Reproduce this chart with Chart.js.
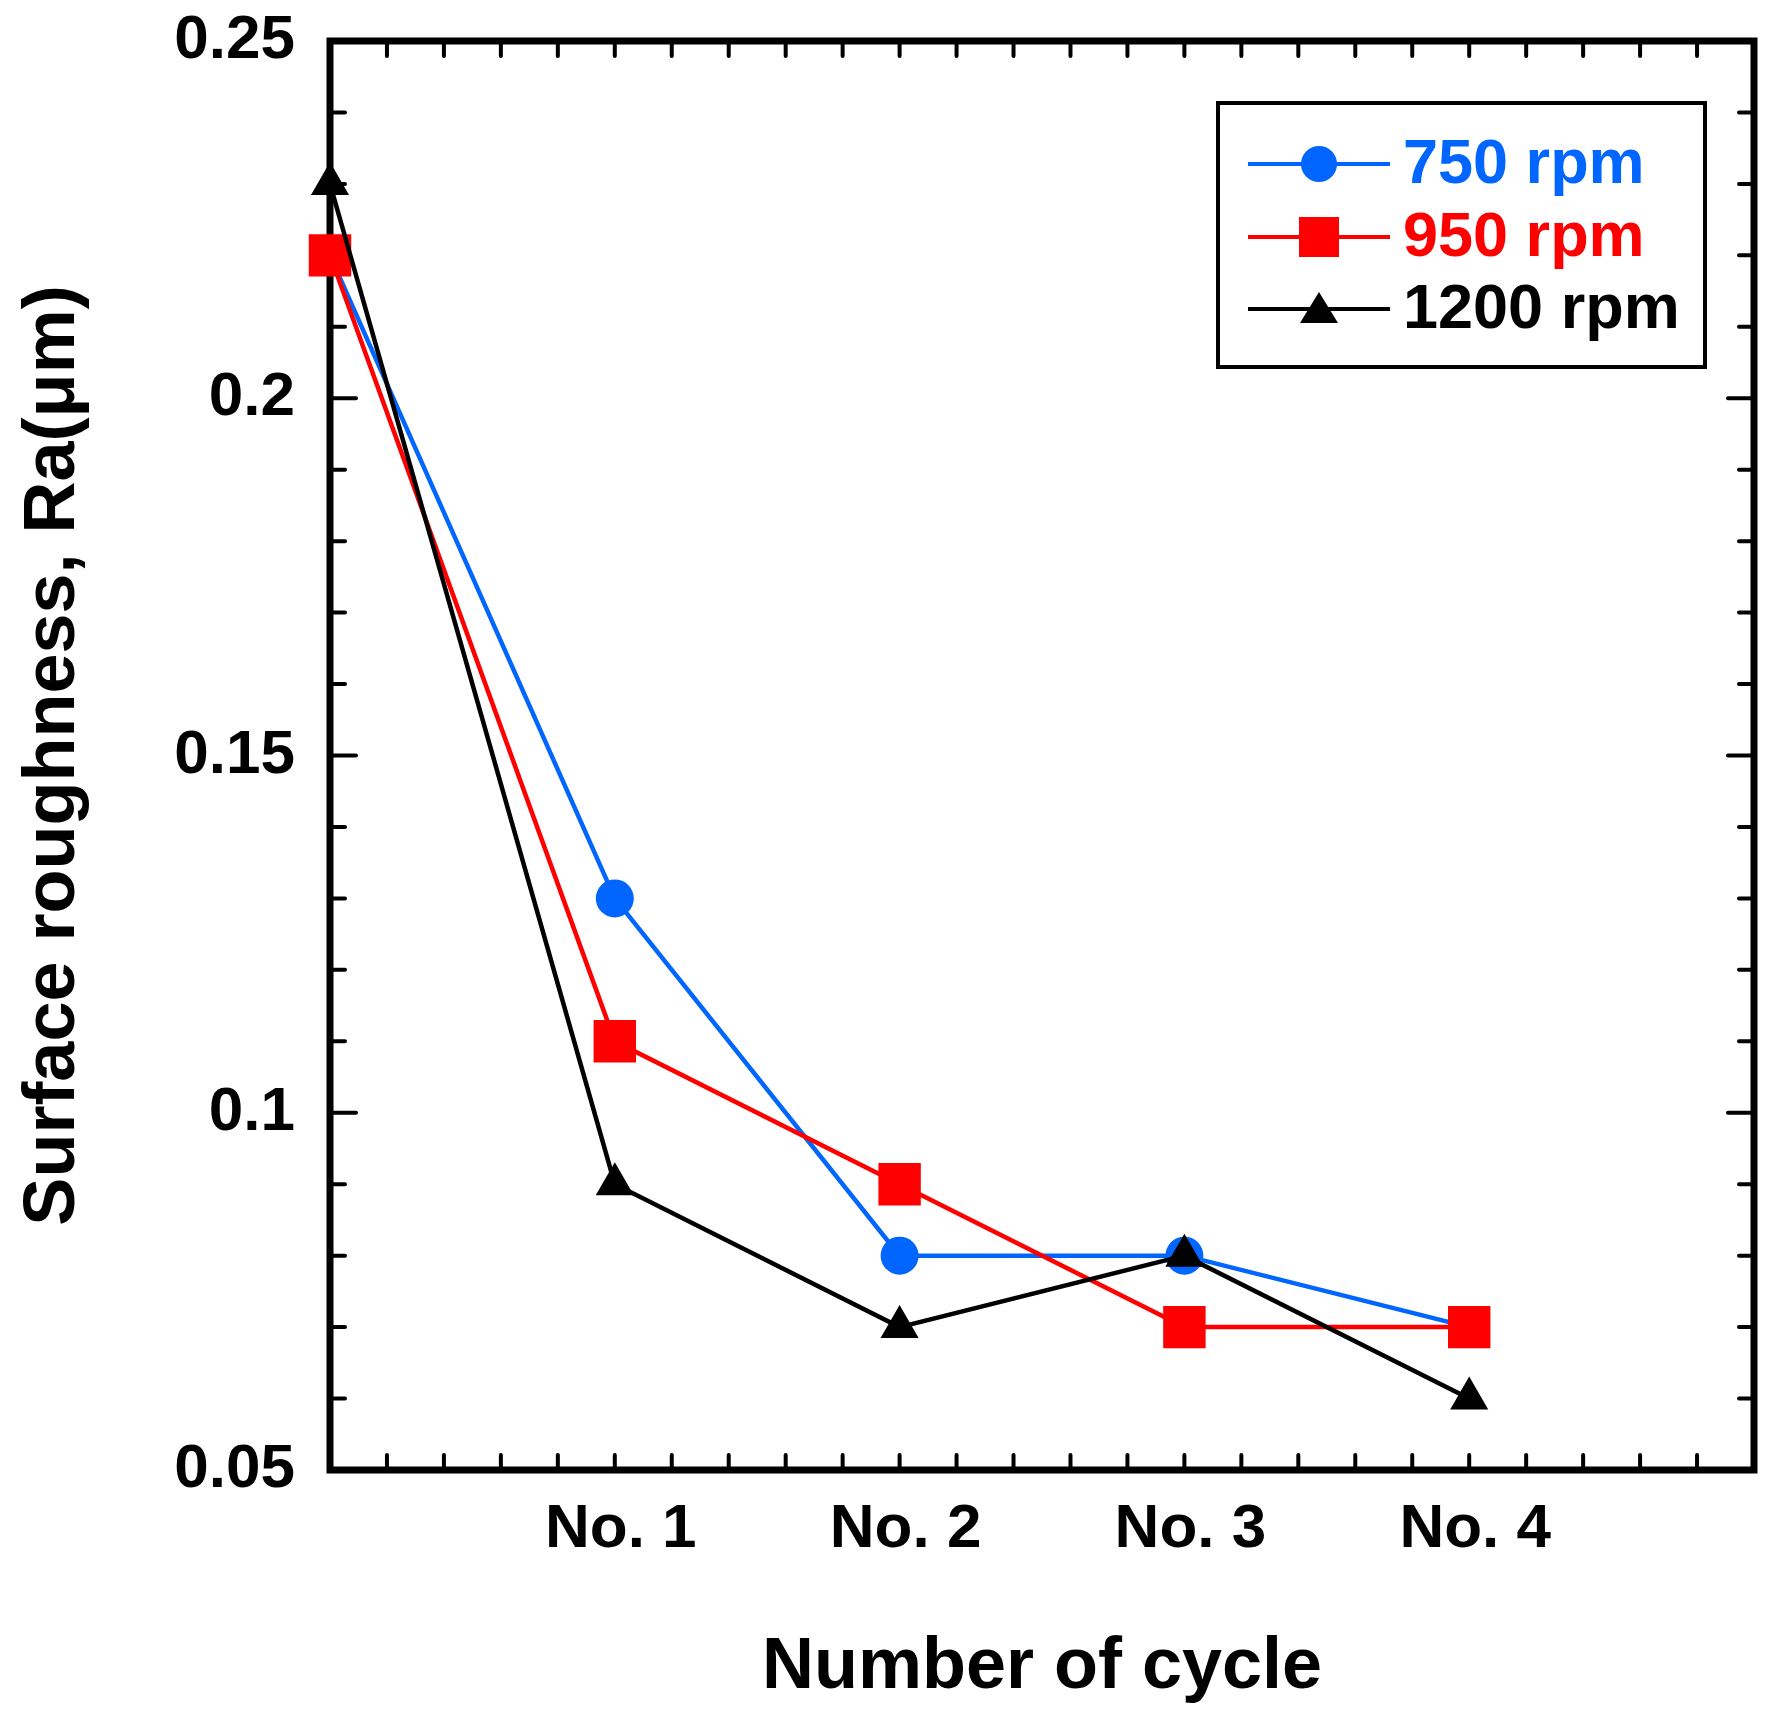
<!DOCTYPE html>
<html>
<head>
<meta charset="utf-8">
<style>
  html, body { margin: 0; padding: 0; background: #fff; }
  #wrap { width: 1784px; height: 1717px; }
</style>
</head>
<body>
<div id="wrap"><canvas id="myChart"></canvas></div>
<script src="https://cdn.jsdelivr.net/npm/chart.js@4.4.0/dist/chart.umd.min.js"></script>
<script>
// data
const cycles = [0, 1, 2, 3, 4];
const cycleLabels = ['', 'No. 1', 'No. 2', 'No. 3', 'No. 4'];
const rpm750 = [0.22, 0.13, 0.08, 0.08, 0.07];
const rpm950 = [0.22, 0.11, 0.09, 0.07, 0.07];
const rpm1200 = [0.23, 0.09, 0.07, 0.08, 0.06];
const yTickValues = [0.05, 0.1, 0.15, 0.2, 0.25];

const FONT = '"Liberation Sans", Arial, sans-serif';
const BLUE = '#0066ff';
const RED = '#ff0000';
const BLACK = '#000000';

const pts = (ys) => cycles.map((x, i) => ({ x: x, y: ys[i] }));

// frame + inward ticks on all four sides
const frame = {
    id: 'frame',
    beforeDatasetsDraw(chart) {
        const { ctx, chartArea: a, scales: { x, y } } = chart;
        ctx.save();
        ctx.strokeStyle = '#000';
        ctx.lineCap = 'round';
        ctx.lineWidth = 4;
        for (let i = 0; i <= 25; i++) {
            const px = x.getPixelForValue(i * 0.2);
            ctx.beginPath();
            ctx.moveTo(px, a.bottom); ctx.lineTo(px, a.bottom - 15);
            ctx.moveTo(px, a.top); ctx.lineTo(px, a.top + 15);
            ctx.stroke();
        }
        for (let i = 0; i <= 20; i++) {
            const py = y.getPixelForValue(0.05 + i * 0.01);
            const len = i % 5 === 0 ? 26 : 15;
            ctx.beginPath();
            ctx.moveTo(a.left, py); ctx.lineTo(a.left + len, py);
            ctx.moveTo(a.right, py); ctx.lineTo(a.right - len, py);
            ctx.stroke();
        }
        ctx.lineCap = 'butt';
        ctx.lineWidth = 7;
        ctx.strokeRect(a.left, a.top, a.right - a.left, a.bottom - a.top);
        ctx.restore();
    }
};

// legend box: line with marker, coloured text
const legendBox = {
    id: 'legendBox',
    afterDraw(chart) {
        const ctx = chart.ctx;
        ctx.save();
        ctx.strokeStyle = '#000';
        ctx.lineWidth = 4;
        ctx.strokeRect(1218, 103, 487, 264);
        const rows = [164, 237, 309];
        const mx = 1319;
        chart.data.datasets.forEach((ds, i) => {
            const ry = rows[i];
            ctx.strokeStyle = ds.borderColor;
            ctx.lineWidth = 4;
            ctx.beginPath();
            ctx.moveTo(1248, ry); ctx.lineTo(1390, ry);
            ctx.stroke();
            ctx.fillStyle = ds.backgroundColor;
            ctx.beginPath();
            if (ds.pointStyle === 'circle') {
                ctx.arc(mx, ry, 18, 0, Math.PI * 2);
            } else if (ds.pointStyle === 'rect') {
                ctx.rect(mx - 20, ry - 20, 40, 40);
            } else {
                ctx.moveTo(mx, ry - 17);
                ctx.lineTo(mx + 19, ry + 14);
                ctx.lineTo(mx - 19, ry + 14);
                ctx.closePath();
            }
            ctx.fill();
            ctx.fillStyle = ds.borderColor;
            ctx.font = 'bold 63px ' + FONT;
            ctx.textBaseline = 'middle';
            ctx.textAlign = 'left';
            ctx.fillText(ds.label, 1403, ry + 2);
        });
        ctx.restore();
    }
};

const ctx = document.getElementById('myChart').getContext('2d');
const myChart = new Chart(ctx, {
    type: 'line',
    data: {
        datasets: [{
            label: '750 rpm',
            data: pts(rpm750),
            borderColor: BLUE,
            backgroundColor: BLUE,
            borderWidth: 4.5,
            pointStyle: 'circle',
            pointRadius: 19,
            pointBorderWidth: 0,
            order: 3,
            clip: false
        }, {
            label: '950 rpm',
            data: pts(rpm950),
            borderColor: RED,
            backgroundColor: RED,
            borderWidth: 4.5,
            pointStyle: 'rect',
            pointRadius: 30,
            pointBorderWidth: 0,
            order: 2,
            clip: false
        }, {
            label: '1200 rpm',
            data: pts(rpm1200),
            borderColor: BLACK,
            backgroundColor: BLACK,
            borderWidth: 4.5,
            pointStyle: 'triangle',
            pointRadius: 22,
            pointBorderWidth: 0,
            order: 1,
            clip: false
        }]
    },
    options: {
        responsive: true,
        maintainAspectRatio: false,
        animation: false,
        devicePixelRatio: 1,
        layout: { padding: { top: 41, right: 24, left: 0, bottom: 0 } },
        plugins: {
            legend: { display: false },
            tooltip: { enabled: false }
        },
        scales: {
            x: {
                type: 'linear',
                min: 0,
                max: 5,
                grid: { display: false, drawTicks: false },
                border: { display: false },
                afterBuildTicks: (s) => { s.ticks = cycles.map(v => ({ value: v })); },
                afterFit: (s) => { s.height = 247; s.paddingLeft = 0; s.paddingRight = 0; },
                ticks: {
                    autoSkip: false,
                    maxRotation: 0,
                    padding: 23,
                    labelOffset: 6,
                    color: '#000',
                    font: { family: FONT, size: 62, weight: 'bold' },
                    callback: (v) => cycleLabels[v] || ''
                },
                title: {
                    display: true,
                    text: 'Number of cycle',
                    color: '#000',
                    padding: { top: 0, bottom: 6 },
                    font: { family: FONT, size: 72, weight: 'bold' }
                }
            },
            y: {
                min: 0.05,
                max: 0.25,
                grid: { display: false, drawTicks: false },
                border: { display: false },
                afterBuildTicks: (s) => { s.ticks = yTickValues.map(v => ({ value: v })); },
                afterFit: (s) => { s.width = 330; s.paddingTop = 0; s.paddingBottom = 0; },
                ticks: {
                    padding: 35,
                    color: '#000',
                    font: { family: FONT, size: 62, weight: 'bold' },
                    callback: (v) => String(+v.toFixed(2))
                },
                title: {
                    display: true,
                    text: 'Surface roughness, Ra(μm)',
                    color: '#000',
                    padding: { top: 11, bottom: 0 },
                    font: { family: FONT, size: 72, weight: 'bold' }
                }
            }
        }
    },
    plugins: [frame, legendBox]
});
</script>
</body>
</html>
